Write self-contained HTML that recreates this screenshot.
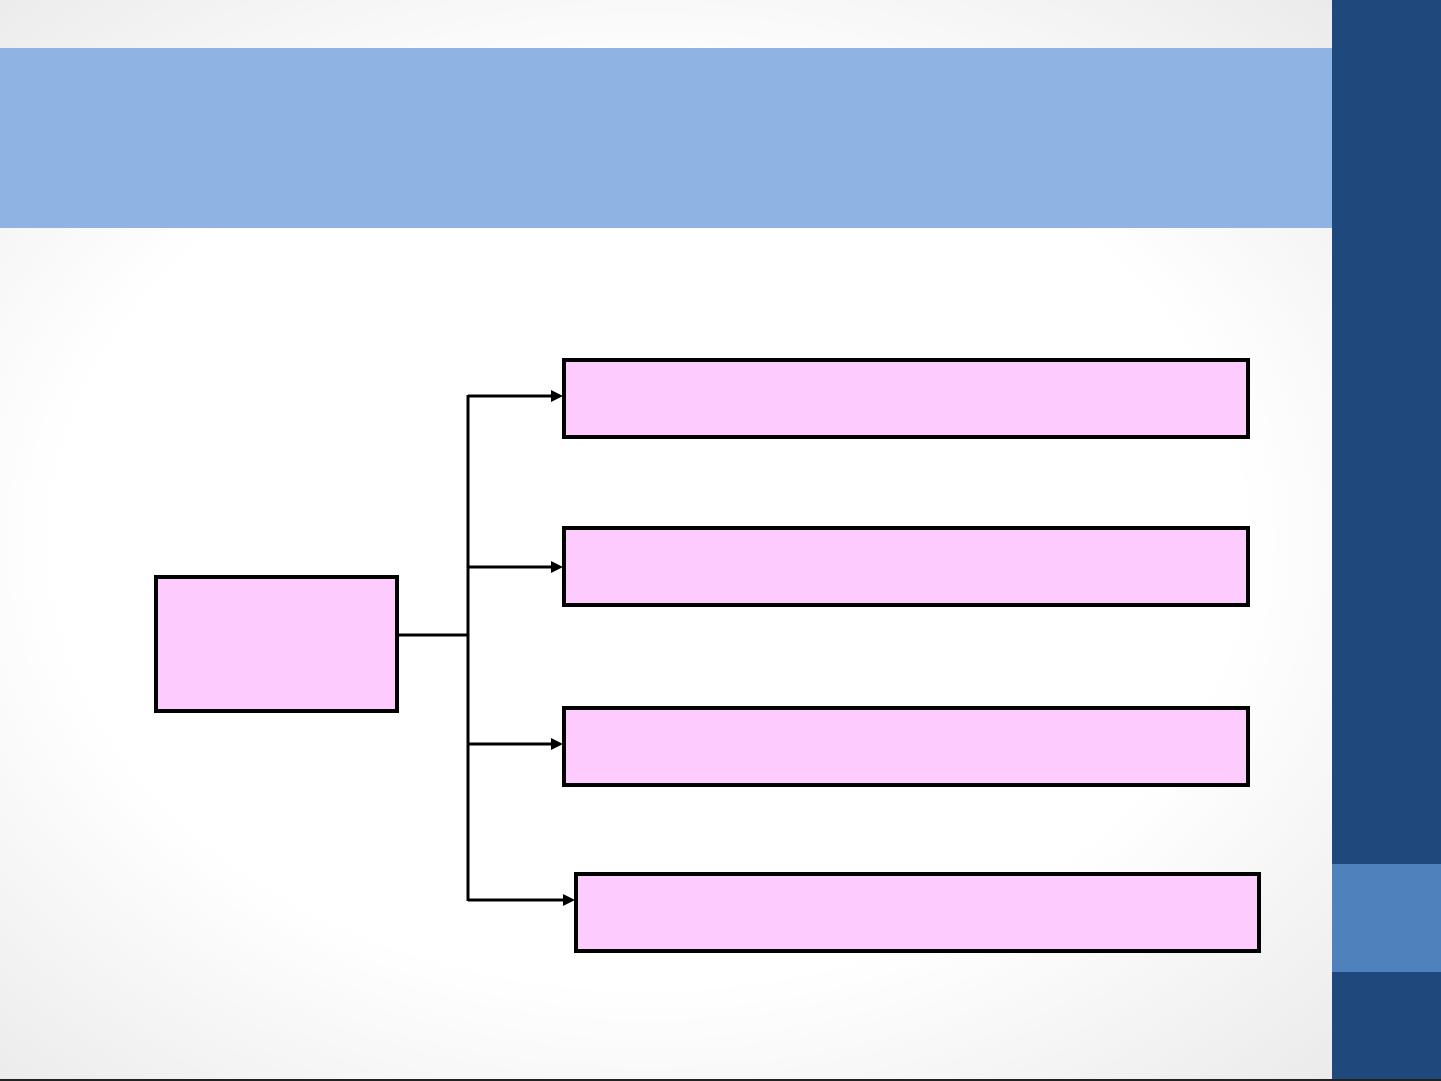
<!DOCTYPE html>
<html><head><style>
html,body{margin:0;padding:0}
body{width:1441px;height:1081px;position:relative;overflow:hidden;background:radial-gradient(ellipse 75% 75% at 45% 50%,#ffffff 55%,#e6e6e6 100%);font-family:"Liberation Sans",sans-serif}
.b{position:absolute;box-sizing:border-box;background:#fdcbfd;border:4px solid #000}
</style></head><body>
<div style="position:absolute;left:0;top:48px;width:1332px;height:180px;background:#8fb3e2"></div>
<div style="position:absolute;left:1332px;top:0;width:109px;height:1081px;background:#1f497d"></div>
<div style="position:absolute;left:1332px;top:864px;width:109px;height:108px;background:#4f81bd"></div>
<div style="position:absolute;left:0;top:1079px;width:1441px;height:2px;background:#222"></div>
<div class="b" style="left:154px;top:575px;width:245px;height:138px"></div>
<div class="b" style="left:562px;top:358px;width:688px;height:81px"></div>
<div class="b" style="left:562px;top:526px;width:688px;height:81px"></div>
<div class="b" style="left:562px;top:706px;width:688px;height:81px"></div>
<div class="b" style="left:574px;top:872px;width:687px;height:81px"></div>
<svg width="1441" height="1081" style="position:absolute;left:0;top:0">
<g stroke="#000" stroke-width="3" fill="none">
<line x1="468" y1="395" x2="468" y2="901"/>
<line x1="398" y1="635" x2="468" y2="635"/>
<line x1="468" y1="396" x2="552" y2="396"/>
<line x1="468" y1="567" x2="552" y2="567"/>
<line x1="468" y1="744" x2="552" y2="744"/>
<line x1="468" y1="900" x2="564" y2="900"/>
</g>
<g fill="#000">
<polygon points="551,390 563,396 551,402"/>
<polygon points="551,561 563,567 551,573"/>
<polygon points="551,738 563,744 551,750"/>
<polygon points="563,894 575,900 563,906"/>
</g>
</svg>
</body></html>
